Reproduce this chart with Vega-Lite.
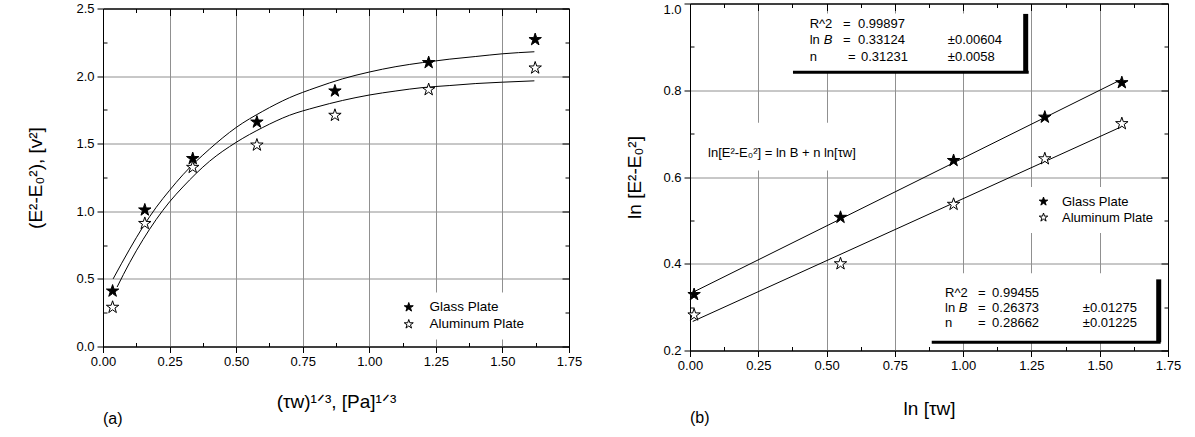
{
  "$schema": "https://vega.github.io/schema/vega-lite/v6.json",
  "padding": {"left": 26, "top": 1.5, "right": 5, "bottom": 5},
  "config": {
    "font": "Liberation Sans",
    "view": {"stroke": "black", "strokeWidth": 1},
    "axis": {"labelFont": "Liberation Sans", "titleFont": "Liberation Sans", "labelColor": "black", "titleColor": "black", "titleFontWeight": "normal", "domainColor": "black", "tickColor": "black", "labelFontSize": 13, "gridColor": "#909090", "gridWidth": 1, "labelOverlap": false, "labelFlush": false, "labelBound": false, "labelPadding": 3},
    "legend": {"labelFont": "Liberation Sans", "labelFontSize": 13.5, "labelColor": "black"},
    "text": {"font": "Liberation Sans"},
    "title": {"font": "Liberation Sans", "fontWeight": "normal", "color": "black"}
  },
  "datasets": {
    "leftPoints": [
      {"x": 0.036, "y": 0.41, "series": "Glass Plate"},
      {"x": 0.157, "y": 1.01, "series": "Glass Plate"},
      {"x": 0.337, "y": 1.39, "series": "Glass Plate"},
      {"x": 0.578, "y": 1.66, "series": "Glass Plate"},
      {"x": 0.871, "y": 1.89, "series": "Glass Plate"},
      {"x": 1.223, "y": 2.10, "series": "Glass Plate"},
      {"x": 1.623, "y": 2.27, "series": "Glass Plate"},
      {"x": 0.036, "y": 0.29, "series": "Aluminum Plate"},
      {"x": 0.157, "y": 0.91, "series": "Aluminum Plate"},
      {"x": 0.337, "y": 1.325, "series": "Aluminum Plate"},
      {"x": 0.578, "y": 1.49, "series": "Aluminum Plate"},
      {"x": 0.871, "y": 1.71, "series": "Aluminum Plate"},
      {"x": 1.223, "y": 1.90, "series": "Aluminum Plate"},
      {"x": 1.623, "y": 2.06, "series": "Aluminum Plate"}
    ],
    "leftFit": [
      {"x": 0.038, "y": 0.50, "series": "Glass Plate"},
      {"x": 0.1, "y": 0.72, "series": "Glass Plate"},
      {"x": 0.15, "y": 0.885, "series": "Glass Plate"},
      {"x": 0.2, "y": 1.03, "series": "Glass Plate"},
      {"x": 0.25, "y": 1.155, "series": "Glass Plate"},
      {"x": 0.3, "y": 1.27, "series": "Glass Plate"},
      {"x": 0.4, "y": 1.46, "series": "Glass Plate"},
      {"x": 0.5, "y": 1.62, "series": "Glass Plate"},
      {"x": 0.6, "y": 1.74, "series": "Glass Plate"},
      {"x": 0.7, "y": 1.84, "series": "Glass Plate"},
      {"x": 0.8, "y": 1.915, "series": "Glass Plate"},
      {"x": 0.9, "y": 1.98, "series": "Glass Plate"},
      {"x": 1.0, "y": 2.03, "series": "Glass Plate"},
      {"x": 1.1, "y": 2.07, "series": "Glass Plate"},
      {"x": 1.2, "y": 2.10, "series": "Glass Plate"},
      {"x": 1.3, "y": 2.125, "series": "Glass Plate"},
      {"x": 1.4, "y": 2.145, "series": "Glass Plate"},
      {"x": 1.5, "y": 2.165, "series": "Glass Plate"},
      {"x": 1.62, "y": 2.18, "series": "Glass Plate"},
      {"x": 0.053, "y": 0.44, "series": "Aluminum Plate"},
      {"x": 0.1, "y": 0.62, "series": "Aluminum Plate"},
      {"x": 0.15, "y": 0.79, "series": "Aluminum Plate"},
      {"x": 0.2, "y": 0.94, "series": "Aluminum Plate"},
      {"x": 0.25, "y": 1.07, "series": "Aluminum Plate"},
      {"x": 0.3, "y": 1.18, "series": "Aluminum Plate"},
      {"x": 0.4, "y": 1.37, "series": "Aluminum Plate"},
      {"x": 0.5, "y": 1.51, "series": "Aluminum Plate"},
      {"x": 0.6, "y": 1.62, "series": "Aluminum Plate"},
      {"x": 0.7, "y": 1.71, "series": "Aluminum Plate"},
      {"x": 0.8, "y": 1.77, "series": "Aluminum Plate"},
      {"x": 0.9, "y": 1.82, "series": "Aluminum Plate"},
      {"x": 1.0, "y": 1.86, "series": "Aluminum Plate"},
      {"x": 1.1, "y": 1.89, "series": "Aluminum Plate"},
      {"x": 1.2, "y": 1.915, "series": "Aluminum Plate"},
      {"x": 1.3, "y": 1.93, "series": "Aluminum Plate"},
      {"x": 1.4, "y": 1.945, "series": "Aluminum Plate"},
      {"x": 1.5, "y": 1.955, "series": "Aluminum Plate"},
      {"x": 1.62, "y": 1.965, "series": "Aluminum Plate"}
    ],
    "rightPoints": [
      {"x": 0.015, "y": 0.329, "series": "Glass Plate"},
      {"x": 0.551, "y": 0.507, "series": "Glass Plate"},
      {"x": 0.965, "y": 0.638, "series": "Glass Plate"},
      {"x": 1.299, "y": 0.738, "series": "Glass Plate"},
      {"x": 1.581, "y": 0.8175, "series": "Glass Plate"},
      {"x": 0.015, "y": 0.282, "series": "Aluminum Plate"},
      {"x": 0.551, "y": 0.40, "series": "Aluminum Plate"},
      {"x": 0.965, "y": 0.537, "series": "Aluminum Plate"},
      {"x": 1.299, "y": 0.642, "series": "Aluminum Plate"},
      {"x": 1.581, "y": 0.723, "series": "Aluminum Plate"}
    ],
    "rightFit": [
      {"x": 0.01, "y": 0.334, "series": "Glass Plate"},
      {"x": 1.58, "y": 0.825, "series": "Glass Plate"},
      {"x": 0.01, "y": 0.267, "series": "Aluminum Plate"},
      {"x": 1.58, "y": 0.716, "series": "Aluminum Plate"}
    ],
    "boxes": [
      {"x": 0.377, "x2": 1.232, "y": 0.842, "y2": 0.977},
      {"x": 0.885, "x2": 1.716, "y": 0.219, "y2": 0.378},
      {"x": 0.04, "x2": 0.70, "y": 0.615, "y2": 0.725}
    ],
    "hbars": [
      {"x": 0.377, "x2": 1.24, "y": 0.8415},
      {"x": 0.885, "x2": 1.723, "y": 0.219}
    ],
    "vbars": [
      {"x": 1.229, "y": 0.8415, "y2": 0.976},
      {"x": 1.716, "y": 0.219, "y2": 0.364}
    ],
    "notes": [
      {"x": 0.438, "y": 0.952, "t": "R^2"},
      {"x": 0.56, "y": 0.952, "t": "="},
      {"x": 0.615, "y": 0.952, "t": "0.99897"},
      {"x": 0.438, "y": 0.915, "t": "ln"},
      {"x": 0.56, "y": 0.915, "t": "="},
      {"x": 0.615, "y": 0.915, "t": "0.33124"},
      {"x": 0.944, "y": 0.915, "t": "±0.00604"},
      {"x": 0.438, "y": 0.877, "t": "n"},
      {"x": 0.578, "y": 0.877, "t": "="},
      {"x": 0.626, "y": 0.877, "t": "0.31231"},
      {"x": 0.944, "y": 0.877, "t": "±0.0058"},
      {"x": 0.934, "y": 0.333, "t": "R^2"},
      {"x": 1.054, "y": 0.333, "t": "="},
      {"x": 1.106, "y": 0.333, "t": "0.99455"},
      {"x": 0.934, "y": 0.2976, "t": "ln"},
      {"x": 1.054, "y": 0.2976, "t": "="},
      {"x": 1.106, "y": 0.2976, "t": "0.26373"},
      {"x": 1.438, "y": 0.2976, "t": "±0.01275"},
      {"x": 0.934, "y": 0.263, "t": "n"},
      {"x": 1.054, "y": 0.263, "t": "="},
      {"x": 1.106, "y": 0.263, "t": "0.28662"},
      {"x": 1.438, "y": 0.263, "t": "±0.01225"},
      {"x": 0.066, "y": 0.655, "t": "ln[E²-E₀²] = ln B + n ln[τw]"}
    ],
    "notesItalic": [
      {"x": 0.49, "y": 0.915, "t": "B"},
      {"x": 0.984, "y": 0.2976, "t": "B"}
    ]
  },
  "spacing": 42,
  "resolve": {"scale": {"shape": "independent", "fill": "independent", "stroke": "independent"}},
  "hconcat": [
    {
      "vconcat": [
        {
          "width": 466,
          "height": 5,
          "view": {"stroke": null},
          "data": {"values": [{"k": 1}]},
          "mark": {"type": "point", "opacity": 0},
          "encoding": {}
        },
        {
          "width": 466,
          "height": 338,
          "title": {"text": "(a)", "orient": "bottom", "anchor": "start", "frame": "group", "fontSize": 16, "offset": -1},
          "resolve": {"axis": {"x": "independent", "y": "independent"}},
          "layer": [
            {
              "data": {"name": "leftFit"},
              "mark": {"type": "line", "color": "black", "strokeWidth": 1, "interpolate": "monotone"},
              "encoding": {
                "x": {"field": "x", "type": "quantitative", "scale": {"domain": [0, 1.75], "nice": false, "zero": false},
                  "axis": {"orient": "bottom", "values": [0, 0.125, 0.25, 0.375, 0.5, 0.625, 0.75, 0.875, 1, 1.125, 1.25, 1.375, 1.5, 1.625, 1.75], "format": ".2f",
                    "labelExpr": "abs(datum.value*4-round(datum.value*4))<0.001 ? datum.label : ''",
                    "tickSize": {"condition": {"test": "abs(datum.value*4-round(datum.value*4))<0.001", "value": 6}, "value": -4},
                    "grid": true,
                    "gridOpacity": {"condition": {"test": "abs(datum.value*4-round(datum.value*4))<0.001 && datum.value>0.01 && datum.value<1.74", "value": 1}, "value": 0},
                    "title": "(τw)¹ᐟ³, [Pa]¹ᐟ³", "titleFontSize": 19, "titlePadding": 24}},
                "y": {"field": "y", "type": "quantitative", "scale": {"domain": [0, 2.5], "nice": false, "zero": false},
                  "axis": {"orient": "left", "values": [0, 0.25, 0.5, 0.75, 1, 1.25, 1.5, 1.75, 2, 2.25, 2.5], "format": ".1f",
                    "labelExpr": "abs(datum.value*2-round(datum.value*2))<0.001 ? datum.label : ''",
                    "tickSize": {"condition": {"test": "abs(datum.value*2-round(datum.value*2))<0.001", "value": 6}, "value": -4},
                    "grid": true,
                    "gridOpacity": {"condition": {"test": "abs(datum.value*2-round(datum.value*2))<0.001 && datum.value>0.01 && datum.value<2.49", "value": 1}, "value": 0},
                    "title": "(E²-E₀²), [v²]", "titleFontSize": 19, "titlePadding": 30}},
                "detail": {"field": "series"}
              }
            },
            {
              "data": {"name": "leftPoints"},
              "mark": {"type": "point", "strokeWidth": 1, "opacity": 1, "size": 170},
              "encoding": {
                "x": {"field": "x", "type": "quantitative", "axis": null},
                "y": {"field": "y", "type": "quantitative", "axis": null},
                "shape": {"field": "series", "type": "nominal",
                  "scale": {"domain": ["Glass Plate", "Aluminum Plate"], "range": ["M0,-1L0.2245,-0.309L0.951,-0.309L0.363,0.118L0.588,0.809L0,0.382L-0.588,0.809L-0.363,0.118L-0.951,-0.309L-0.2245,-0.309Z", "M0,-1L0.2245,-0.309L0.951,-0.309L0.363,0.118L0.588,0.809L0,0.382L-0.588,0.809L-0.363,0.118L-0.951,-0.309L-0.2245,-0.309Z"]},
                  "legend": {"title": null, "orient": "none", "legendX": 291, "legendY": 289, "fillColor": "white", "padding": 8, "symbolSize": 90, "symbolStrokeWidth": 1, "labelOffset": 14, "rowPadding": 2}},
                "fill": {"field": "series", "type": "nominal",
                  "scale": {"domain": ["Glass Plate", "Aluminum Plate"], "range": ["black", "white"]},
                  "legend": {"title": null, "orient": "none", "legendX": 291, "legendY": 289, "fillColor": "white", "padding": 8, "symbolSize": 90, "symbolStrokeWidth": 1, "labelOffset": 14, "rowPadding": 2}},
                "stroke": {"field": "series", "type": "nominal",
                  "scale": {"domain": ["Glass Plate", "Aluminum Plate"], "range": ["black", "black"]},
                  "legend": {"title": null, "orient": "none", "legendX": 291, "legendY": 289, "fillColor": "white", "padding": 8, "symbolSize": 90, "symbolStrokeWidth": 1, "labelOffset": 14, "rowPadding": 2}}
              }
            },
            {
              "data": {"name": "leftPoints"},
              "mark": {"type": "point", "opacity": 0},
              "encoding": {
                "x": {"field": "x", "type": "quantitative",
                  "axis": {"orient": "top", "values": [0, 0.125, 0.25, 0.375, 0.5, 0.625, 0.75, 0.875, 1, 1.125, 1.25, 1.375, 1.5, 1.625, 1.75], "labels": false, "title": null, "grid": false,
                    "tickSize": {"condition": {"test": "abs(datum.value*4-round(datum.value*4))<0.001", "value": -7}, "value": -4}}},
                "y": {"field": "y", "type": "quantitative",
                  "axis": {"orient": "right", "values": [0, 0.25, 0.5, 0.75, 1, 1.25, 1.5, 1.75, 2, 2.25, 2.5], "labels": false, "title": null, "grid": false,
                    "tickSize": {"condition": {"test": "abs(datum.value*2-round(datum.value*2))<0.001", "value": -7}, "value": -4}}}
              }
            }
          ]
        }
      ],
      "spacing": 0,
      "bounds": "flush"
    },
    {
      "width": 478,
      "height": 347,
      "title": {"text": "(b)", "orient": "bottom", "anchor": "start", "frame": "group", "fontSize": 16, "offset": -9},
      "resolve": {"axis": {"x": "independent", "y": "independent"}},
      "layer": [
        {
          "data": {"name": "boxes"},
          "mark": {"type": "rect", "fill": "white", "stroke": null},
          "encoding": {
            "x": {"field": "x", "type": "quantitative", "scale": {"domain": [0, 1.75], "nice": false, "zero": false},
              "axis": {"orient": "bottom", "values": [0, 0.125, 0.25, 0.375, 0.5, 0.625, 0.75, 0.875, 1, 1.125, 1.25, 1.375, 1.5, 1.625, 1.75], "format": ".2f",
                "labelExpr": "abs(datum.value*4-round(datum.value*4))<0.001 ? datum.label : ''",
                "tickSize": {"condition": {"test": "abs(datum.value*4-round(datum.value*4))<0.001", "value": 6}, "value": -4},
                "grid": true,
                "gridOpacity": {"condition": {"test": "abs(datum.value*4-round(datum.value*4))<0.001 && datum.value>0.01 && datum.value<1.74", "value": 1}, "value": 0},
                "title": "ln [τw]", "titleFontSize": 19, "titlePadding": 27}},
            "x2": {"field": "x2"},
            "y": {"field": "y", "type": "quantitative", "scale": {"domain": [0.2, 1.0], "nice": false, "zero": false},
              "axis": {"orient": "left", "values": [0.2, 0.3, 0.4, 0.5, 0.6, 0.7, 0.8, 0.9, 1.0], "format": ".1f",
                "labelExpr": "abs(datum.value*5-round(datum.value*5))<0.001 ? datum.label : ''",
                "labelBaseline": {"condition": {"test": "datum.value > 0.99", "value": "top"}, "value": "middle"},
                "tickSize": {"condition": {"test": "abs(datum.value*5-round(datum.value*5))<0.001", "value": 6}, "value": -4},
                "grid": true,
                "gridOpacity": {"condition": {"test": "abs(datum.value*5-round(datum.value*5))<0.001 && datum.value>0.21 && datum.value<0.99", "value": 1}, "value": 0},
                "title": "ln [E²-E₀²]", "titleFontSize": 19, "titlePadding": 18}},
            "y2": {"field": "y2"}
          }
        },
        {
          "data": {"name": "rightFit"},
          "mark": {"type": "line", "color": "black", "strokeWidth": 1},
          "encoding": {
            "x": {"field": "x", "type": "quantitative", "axis": null},
            "y": {"field": "y", "type": "quantitative", "axis": null},
            "detail": {"field": "series"}
          }
        },
        {
          "data": {"name": "rightPoints"},
          "mark": {"type": "point", "strokeWidth": 1, "opacity": 1, "size": 170},
          "encoding": {
            "x": {"field": "x", "type": "quantitative", "axis": null},
            "y": {"field": "y", "type": "quantitative", "axis": null},
            "shape": {"field": "series", "type": "nominal",
              "scale": {"domain": ["Glass Plate", "Aluminum Plate"], "range": ["M0,-1L0.2245,-0.309L0.951,-0.309L0.363,0.118L0.588,0.809L0,0.382L-0.588,0.809L-0.363,0.118L-0.951,-0.309L-0.2245,-0.309Z", "M0,-1L0.2245,-0.309L0.951,-0.309L0.363,0.118L0.588,0.809L0,0.382L-0.588,0.809L-0.363,0.118L-0.951,-0.309L-0.2245,-0.309Z"]},
              "legend": {"title": null, "orient": "none", "legendX": 339, "legendY": 183.5, "fillColor": "white", "padding": 8, "symbolSize": 80, "symbolStrokeWidth": 1, "labelOffset": 12, "rowPadding": 2, "labelFontSize": 13}},
            "fill": {"field": "series", "type": "nominal",
              "scale": {"domain": ["Glass Plate", "Aluminum Plate"], "range": ["black", "white"]},
              "legend": {"title": null, "orient": "none", "legendX": 339, "legendY": 183.5, "fillColor": "white", "padding": 8, "symbolSize": 80, "symbolStrokeWidth": 1, "labelOffset": 12, "rowPadding": 2, "labelFontSize": 13}},
            "stroke": {"field": "series", "type": "nominal",
              "scale": {"domain": ["Glass Plate", "Aluminum Plate"], "range": ["black", "black"]},
              "legend": {"title": null, "orient": "none", "legendX": 339, "legendY": 183.5, "fillColor": "white", "padding": 8, "symbolSize": 80, "symbolStrokeWidth": 1, "labelOffset": 12, "rowPadding": 2, "labelFontSize": 13}}
          }
        },
        {
          "data": {"name": "notes"},
          "mark": {"type": "text", "align": "left", "baseline": "middle", "fontSize": 13, "color": "black"},
          "encoding": {
            "x": {"field": "x", "type": "quantitative", "axis": null},
            "y": {"field": "y", "type": "quantitative", "axis": null},
            "text": {"field": "t"}
          }
        },
        {
          "data": {"name": "notesItalic"},
          "mark": {"type": "text", "align": "left", "baseline": "middle", "fontSize": 13, "fontStyle": "italic", "color": "black"},
          "encoding": {
            "x": {"field": "x", "type": "quantitative", "axis": null},
            "y": {"field": "y", "type": "quantitative", "axis": null},
            "text": {"field": "t"}
          }
        },
        {
          "data": {"name": "hbars"},
          "mark": {"type": "rule", "color": "black", "strokeWidth": 3},
          "encoding": {
            "x": {"field": "x", "type": "quantitative", "axis": null},
            "x2": {"field": "x2"},
            "y": {"field": "y", "type": "quantitative", "axis": null}
          }
        },
        {
          "data": {"name": "vbars"},
          "mark": {"type": "rule", "color": "black", "strokeWidth": 5},
          "encoding": {
            "x": {"field": "x", "type": "quantitative", "axis": null},
            "y": {"field": "y", "type": "quantitative", "axis": null},
            "y2": {"field": "y2"}
          }
        },
        {
          "data": {"name": "rightPoints"},
          "mark": {"type": "point", "opacity": 0},
          "encoding": {
            "x": {"field": "x", "type": "quantitative",
              "axis": {"orient": "top", "values": [0, 0.125, 0.25, 0.375, 0.5, 0.625, 0.75, 0.875, 1, 1.125, 1.25, 1.375, 1.5, 1.625, 1.75], "labels": false, "title": null, "grid": false,
                "tickSize": {"condition": {"test": "abs(datum.value*4-round(datum.value*4))<0.001", "value": -7}, "value": -4}}},
            "y": {"field": "y", "type": "quantitative",
              "axis": {"orient": "right", "values": [0.2, 0.3, 0.4, 0.5, 0.6, 0.7, 0.8, 0.9, 1.0], "labels": false, "title": null, "grid": false,
                "tickSize": {"condition": {"test": "abs(datum.value*5-round(datum.value*5))<0.001", "value": -7}, "value": -4}}}
          }
        }
      ]
    }
  ]
}
